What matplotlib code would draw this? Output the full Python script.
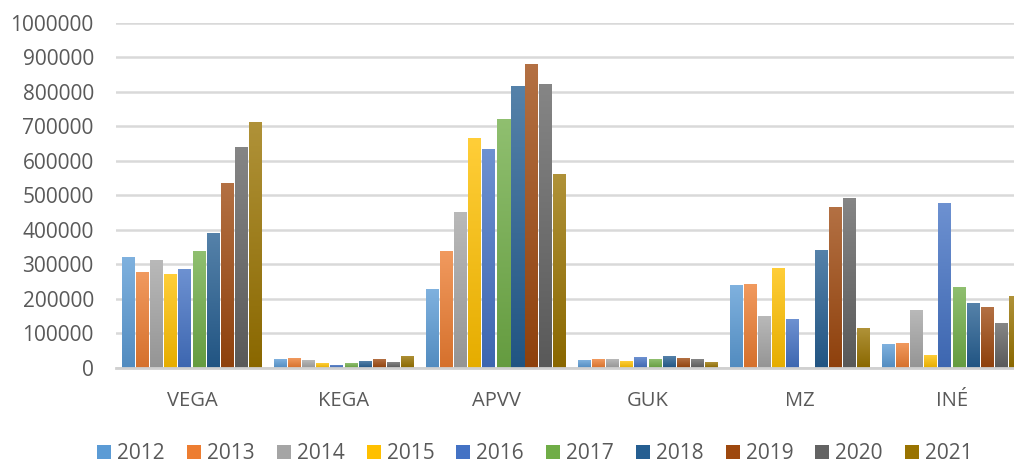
import numpy as np
import matplotlib
matplotlib.use("Agg")
import matplotlib.pyplot as plt
from matplotlib.colors import to_rgb
from matplotlib.patches import Patch

categories = ["VEGA", "KEGA", "APVV", "GUK", "MZ", "INÉ"]
years = ["2012", "2013", "2014", "2015", "2016", "2017", "2018", "2019", "2020", "2021"]

v2012 = [320000, 25000, 228000, 22000, 240000, 68000]
v2013 = [277000, 28000, 338000, 25000, 243000, 71000]
v2014 = [312000, 22000, 451000, 25000, 150000, 167000]
v2015 = [272000, 13500, 666000, 19000, 289000, 37000]
v2016 = [286000, 9000, 634000, 31000, 141000, 477000]
v2017 = [338000, 13500, 721000, 25000, 0, 234000]
v2018 = [390000, 19000, 816000, 34000, 341000, 187000]
v2019 = [535000, 25000, 880000, 28000, 466000, 176000]
v2020 = [640000, 16000, 822000, 25000, 492000, 130000]
v2021 = [712000, 35000, 561000, 16000, 115000, 208000]
series = [v2012, v2013, v2014, v2015, v2016, v2017, v2018, v2019, v2020, v2021]

colors = ["#5B9BD5", "#ED7D31", "#A5A5A5", "#FFC000", "#4472C4",
          "#70AD47", "#255E91", "#9E480E", "#636363", "#997300"]

plt.rcParams['font.family'] = ['Open Sans', 'DejaVu Sans']
text_color = "#595959"

fig = plt.figure(figsize=(10.14, 4.62), dpi=100)
ax = fig.add_axes([116/1014, 94.3/462, 1 - 116/1014, (367.7 - 23)/462])

x = np.arange(len(categories))
slot = 14.1 / 152
bw = 13.0 / 152


def grad_img(c):
    c = np.array(to_rgb(c))
    top = c + (1 - c) * 0.22
    bot = c * 0.90
    t = np.linspace(0, 1, 64)[:, None]
    img = top[None, :] * (1 - t) + bot[None, :] * t
    return img[:, None, :]


for i, (vals, col) in enumerate(zip(series, colors)):
    off = (i - 4.5) * slot
    bars = ax.bar(x + off, vals, width=bw, color=col, zorder=3, linewidth=0)
    img = grad_img(col)
    for b in bars:
        h = b.get_height()
        if h <= 0:
            continue
        x0 = b.get_x()
        im = ax.imshow(img, extent=[x0, x0 + b.get_width(), 0, h], aspect='auto',
                       zorder=3.5, interpolation='bilinear', origin='upper')
        im.set_clip_path(b)

ax.set_xlim(-0.5, (1014 - 192) / 152)
ax.set_ylim(0, 1000000)
ax.set_yticks(np.arange(0, 1000001, 100000))
ax.set_yticklabels([str(v) for v in range(0, 1000001, 100000)])
ax.set_xticks(x)
ax.set_xticklabels(categories)

ax.grid(axis='y', color='#D9D9D9', linewidth=1.8, zorder=0)
ax.set_axisbelow(True)
for s in ['top', 'right', 'left']:
    ax.spines[s].set_visible(False)
ax.spines['bottom'].set_color('#D0D0D0')
ax.spines['bottom'].set_linewidth(2)
ax.spines['bottom'].set_zorder(4)

ax.tick_params(axis='both', length=0, colors=text_color)
ax.tick_params(axis='y', pad=16, labelsize=15)
ax.tick_params(axis='x', pad=17, labelsize=14.5)

handles = [Patch(facecolor=c, edgecolor='none', label=y) for c, y in zip(colors, years)]
fig.legend(handles=handles, loc='center', bbox_to_anchor=(535/1014, 8.5/462), ncol=10,
           frameon=False, fontsize=15, handlelength=0.67, handleheight=0.67,
           handletextpad=0.29, columnspacing=1.06, labelcolor=text_color)

fig.savefig("out.png", dpi=100)
